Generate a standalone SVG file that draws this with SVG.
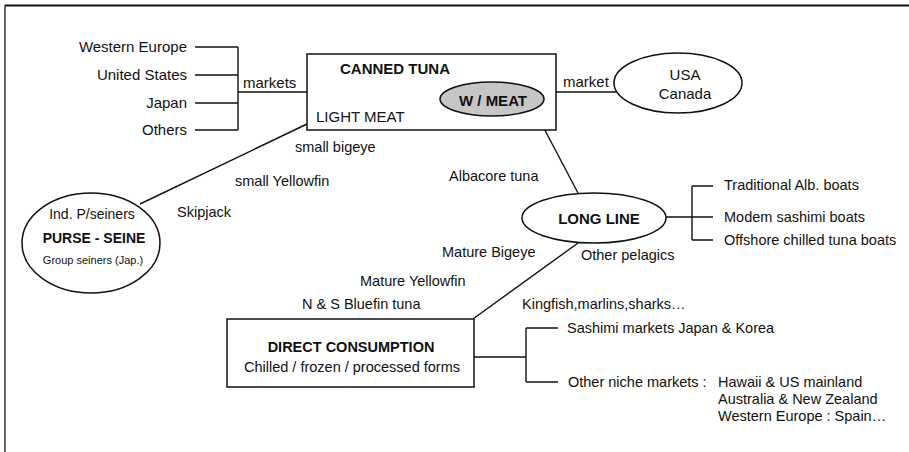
<svg xmlns="http://www.w3.org/2000/svg" width="909" height="452" viewBox="0 0 909 452">
<style>
text{font-family:"Liberation Sans",Arial,Helvetica,sans-serif;fill:#111;font-size:14.5px}
.l{font-size:15px}
.b{font-weight:bold}
.c{text-anchor:middle}
.e{text-anchor:end}
.ln{stroke:#111;stroke-width:1.4;fill:none}
.shape{stroke:#111;stroke-width:1.5;fill:#fff}
</style>
<rect width="909" height="452" fill="#fff"/>
<g id="frame">
<line x1="5" y1="5.5" x2="909" y2="5.5" stroke="#111" stroke-width="2"/>
<line x1="5" y1="5" x2="5" y2="452" stroke="#333" stroke-width="1.5"/>
</g>
<g id="connectors" class="ln">
<path d="M195 47H238M195 75H238M195 103H238M195 130H238M238 47V130M238 92H307"/>
<path d="M545 92H616"/>
<path d="M307 124L140 204"/>
<path d="M538 117L578 193"/>
<path d="M666 217H692M692 186V240M692 186H713M692 217H713M692 240H713"/>
<path d="M578 243L473 319"/>
<path d="M474 357H526M526 328V382M526 328H558M526 382H558"/>
</g>
<g id="markets-left">
<text class="l e" x="187" y="52">Western Europe</text>
<text class="l e" x="187" y="80">United States</text>
<text class="l e" x="187" y="108">Japan</text>
<text class="l e" x="187" y="135">Others</text>
<text class="l" x="243" y="88">markets</text>
</g>
<g id="canned-tuna">
<rect class="shape" x="307" y="54" width="249" height="76"/>
<text class="l b c" x="395" y="74">CANNED TUNA</text>
<text class="l" x="316" y="122">LIGHT MEAT</text>
</g>
<g id="w-meat">
<ellipse cx="492" cy="99" rx="52" ry="17" fill="#c6c6c6" stroke="#111" stroke-width="1.5"/>
<text class="l b c" x="493" y="106">W / MEAT</text>
</g>
<text class="l" x="563" y="87">market</text>
<g id="usa-canada">
<ellipse class="shape" cx="678" cy="83" rx="64" ry="30"/>
<text class="l c" x="685" y="80">USA</text>
<text class="l c" x="685" y="99">Canada</text>
</g>
<g id="purse-seine">
<ellipse class="shape" cx="91" cy="243" rx="69" ry="50"/>
<text class="c" x="92" y="219" style="font-size:14px">Ind. P/seiners</text>
<text class="b c" x="94" y="243" style="font-size:14px">PURSE - SEINE</text>
<text class="c" x="93" y="264" style="font-size:11px">Group seiners (Jap.)</text>
</g>
<g id="species-labels">
<text x="295" y="152">small bigeye</text>
<text x="235" y="186">small Yellowfin</text>
<text x="177" y="217">Skipjack</text>
<text x="449" y="181">Albacore tuna</text>
<text x="442" y="257">Mature Bigeye</text>
<text x="581" y="260">Other pelagics</text>
<text x="360" y="286">Mature Yellowfin</text>
<text x="302" y="309">N &amp; S Bluefin tuna</text>
<text x="522" y="309">Kingfish,marlins,sharks…</text>
</g>
<g id="long-line">
<ellipse class="shape" cx="594" cy="218" rx="72" ry="25"/>
<text class="l b c" x="599" y="224">LONG LINE</text>
</g>
<g id="boats">
<text x="724" y="190">Traditional Alb. boats</text>
<text x="724" y="222">Modem sashimi boats</text>
<text x="724" y="245">Offshore chilled tuna boats</text>
</g>
<g id="direct-consumption">
<rect class="shape" x="227" y="319" width="247" height="68"/>
<text class="b c" x="351" y="352">DIRECT CONSUMPTION</text>
<text class="c" x="352" y="372">Chilled / frozen / processed forms</text>
</g>
<g id="consumer-markets">
<text x="567" y="333">Sashimi markets Japan &amp; Korea</text>
<text x="568" y="387">Other niche markets :</text>
<text x="718" y="387">Hawaii &amp; US mainland</text>
<text x="718" y="404">Australia &amp; New Zealand</text>
<text x="718" y="421">Western Europe : Spain…</text>
</g>
</svg>
